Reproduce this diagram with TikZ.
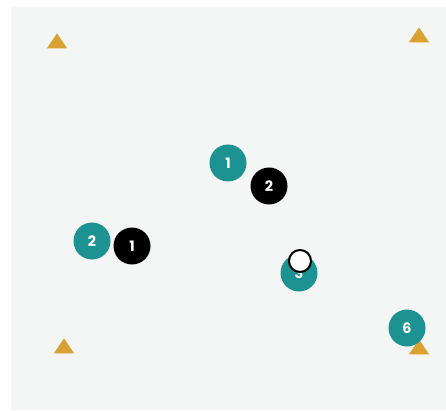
\documentclass[tikz,border=0pt]{standalone}
\usepackage{tikz}
\usepackage{xcolor}
\usepackage{fontspec}
\setsansfont{Poppins}
\usetikzlibrary{shapes.geometric}

\definecolor{field}{HTML}{F4F5F5}
\definecolor{teal}{HTML}{1C9293}
\definecolor{cone}{HTML}{D9A032}

\tikzset{
    cone/.style={isosceles triangle, isosceles triangle apex angle=68, shape border rotate=90,
        fill=cone, inner sep=0pt, minimum height=15pt},
    mate/.style={circle, fill=teal, text=white, inner sep=0pt, minimum size=37pt,
        font=\sffamily\bfseries\Large},
    opp/.style={circle, fill=black, text=white, inner sep=0pt, minimum size=37pt,
        font=\sffamily\bfseries\Large}
}

\begin{document}
\begin{tikzpicture}[x=1pt, y=-1pt]
\useasboundingbox (0,0) rectangle (446,411);
\fill[white] (0,0) rectangle (446,411);
% Field
\fill[field] (11,7) rectangle (446,410);

% Cones in the corners
\node[cone] (c1) at (57,43) {};
\node[cone] (c2) at (419,37) {};
\node[cone] (c3) at (64,348) {};
\node[cone] (c4) at (419,349) {};

% Teammates
\node[mate] (m1) at (228,163) {1};
\node[mate] (m2) at (92,241) {2};
\node[mate] (m3) at (299,273) {3};
\node[mate] (m6) at (407,328) {6};

% Opponents
\node[opp] (o2) at (269,186) {2};
\node[opp] (o1) at (132,246) {1};

% Ball
\node[circle, fill=white, draw=black, line width=2pt, minimum size=22pt, inner sep=0pt] (ball) at (300,261) {};
\end{tikzpicture}
\end{document}
